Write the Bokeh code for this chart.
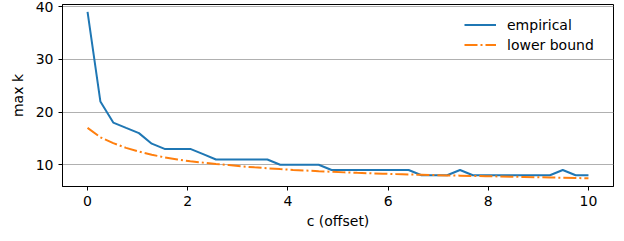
from bokeh.plotting import figure
from bokeh.models import Range1d, FixedTicker, Legend, LegendItem
from bokeh.embed import file_html
from bokeh.resources import INLINE

# offsets c (40 evenly spaced points from 0 to 10)
c_offset = [0.0, 0.256, 0.513, 0.769, 1.026, 1.282, 1.538, 1.795, 2.051, 2.308,
            2.564, 2.821, 3.077, 3.333, 3.590, 3.846, 4.103, 4.359, 4.615, 4.872,
            5.128, 5.385, 5.641, 5.897, 6.154, 6.410, 6.667, 6.923, 7.179, 7.436,
            7.692, 7.949, 8.205, 8.462, 8.718, 8.974, 9.231, 9.487, 9.744, 10.0]
empirical = [39, 22, 18, 17, 16, 14, 13, 13, 13, 12,
             11, 11, 11, 11, 11, 10, 10, 10, 10, 9,
             9, 9, 9, 9, 9, 9, 8, 8, 8, 9,
             8, 8, 8, 8, 8, 8, 8, 9, 8, 8]
lower_bound = [17.0, 15.2, 14.1, 13.2, 12.5, 11.9, 11.4, 11.0, 10.65, 10.4,
               10.15, 9.93, 9.7, 9.5, 9.33, 9.17, 9.02, 8.89, 8.77, 8.66,
               8.55, 8.46, 8.38, 8.3, 8.22, 8.15, 8.09, 8.03, 7.98, 7.93,
               7.88, 7.83, 7.78, 7.73, 7.68, 7.63, 7.58, 7.53, 7.48, 7.43]
x_ticks = [0, 2, 4, 6, 8, 10]
y_ticks = [10, 20, 30, 40]

FONT = "DejaVu Sans"
FS = "14px"

p = figure(width=624, height=241, output_backend="svg", toolbar_location=None,
           x_range=Range1d(-0.5, 10.5), y_range=Range1d(5.87, 40.4),
           min_border_left=62, min_border_right=11, min_border_top=4,
           min_border_bottom=55)

p.outline_line_color = "black"
p.outline_line_width = 1
p.background_fill_color = "white"
p.border_fill_color = "white"

r1 = p.line(c_offset, empirical, line_color="#1f77b4", line_width=2)
r2 = p.line(c_offset, lower_bound, line_color="#ff7f0e", line_width=2,
            line_dash="13 3 2 3")

p.xgrid.visible = False
p.ygrid.grid_line_color = "#b0b0b0"
p.ygrid.grid_line_width = 1

p.xaxis.ticker = FixedTicker(ticks=x_ticks)
p.yaxis.ticker = FixedTicker(ticks=y_ticks)

for ax in (p.xaxis[0], p.yaxis[0]):
    ax.axis_line_color = "black"
    ax.major_tick_line_color = "black"
    ax.major_tick_out = 4
    ax.major_tick_in = 0
    ax.minor_tick_line_color = None
    ax.major_label_text_font = FONT
    ax.major_label_text_font_size = FS
    ax.major_label_text_color = "black"
    ax.axis_label_text_font = FONT
    ax.axis_label_text_font_size = FS
    ax.axis_label_text_font_style = "normal"
    ax.axis_label_text_color = "black"

p.xaxis.axis_label = "c (offset)"
p.yaxis.axis_label = "max k"
p.xaxis.major_label_standoff = 5
p.yaxis.major_label_standoff = 5
p.xaxis.axis_label_standoff = 4
p.yaxis.axis_label_standoff = 7

legend = Legend(items=[LegendItem(label="empirical", renderers=[r1]),
                       LegendItem(label="lower bound", renderers=[r2])],
                location=(397, 127), orientation="vertical")
legend.border_line_alpha = 0
legend.background_fill_alpha = 0
legend.label_text_font = FONT
legend.label_text_font_size = FS
legend.label_text_color = "black"
legend.glyph_width = 32
legend.glyph_height = 19
legend.label_height = 19
legend.label_standoff = 11
legend.spacing = 1
legend.padding = 5
legend.margin = 0
p.add_layout(legend)

open("out.html", "w").write(file_html(p, INLINE))
